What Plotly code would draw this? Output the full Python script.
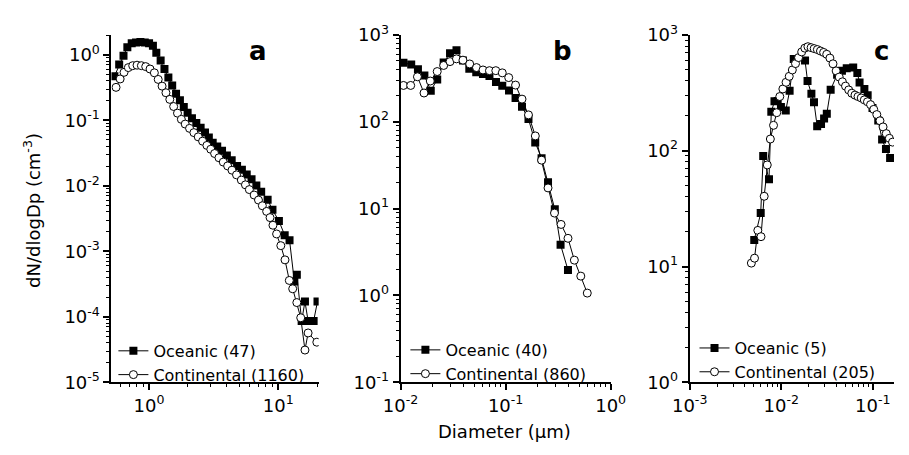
import plotly.graph_objects as go

FONT = "DejaVu Sans"

# ---------------- Panel a ----------------
a_d_oce = [0.539, 0.587, 0.634, 0.679, 0.734, 0.793, 0.857, 0.926, 1.0, 1.071, 1.138, 1.229, 1.316, 1.411,
           1.510, 1.618, 1.733, 1.857, 1.988, 2.148, 2.321, 2.507, 2.710, 2.902, 3.109, 3.371, 3.672, 4.002,
           4.361, 4.801, 5.232, 5.702, 6.214, 6.770, 7.378, 8.277, 9.022, 10.12, 11.22, 12.23, 13.32, 13.93,
           15.18, 16.10, 17.03, 18.79, 20.13]
a_n_oce = [0.469, 0.707, 0.967, 1.306, 1.492, 1.543, 1.569, 1.543, 1.492, 1.373, 1.069, 0.819, 0.606, 0.449,
           0.338, 0.2545, 0.2015, 0.1596, 0.1306, 0.1069, 0.0905, 0.0766, 0.0648, 0.0548, 0.0453, 0.0397,
           0.0344, 0.0291, 0.0246, 0.0201, 0.0176, 0.0149, 0.0126, 0.0101, 0.0081, 0.00612, 0.0043, 0.00291,
           0.00176, 0.00148, 0.000347, 0.000439, 8.66e-5, 0.000171, 8.66e-5, 8.66e-5, 0.000171]
a_d_con = [0.555, 0.597, 0.640, 0.691, 0.747, 0.807, 0.872, 0.942, 1.017, 1.099, 1.177, 1.261, 1.351, 1.447,
           1.550, 1.660, 1.778, 1.905, 2.058, 2.223, 2.402, 2.596, 2.804, 3.003, 3.217, 3.475, 3.755, 4.057,
           4.384, 4.753, 5.179, 5.576, 5.973, 6.508, 7.031, 7.532, 8.136, 8.643, 9.100, 9.712, 10.47, 11.28,
           12.18, 12.94, 13.93, 14.93, 16.10, 17.03, 19.89]
a_n_con = [0.318, 0.427, 0.539, 0.637, 0.681, 0.693, 0.681, 0.659, 0.606, 0.530, 0.420, 0.332, 0.263, 0.2084,
           0.1622, 0.1284, 0.1034, 0.0875, 0.0753, 0.0648, 0.0558, 0.048, 0.0413, 0.0361, 0.0311, 0.0268,
           0.0230, 0.0201, 0.0173, 0.01468, 0.01222, 0.01034, 0.00875, 0.00723, 0.00606, 0.00496, 0.00406,
           0.00327, 0.0025, 0.00184, 0.00122, 0.00074, 0.000359, 0.000268, 0.000165, 9.67e-5, 3.11e-5,
           5.67e-5, 4.1e-5]

# ---------------- Panel b ----------------
b_d_oce = [0.01065, 0.01262, 0.01463, 0.01685, 0.01938, 0.02232, 0.02571, 0.02956, 0.03405, 0.03923, 0.04510,
           0.05251, 0.06087, 0.07013, 0.08095, 0.09289, 0.1077, 0.1243, 0.1432, 0.1650, 0.1913, 0.2199,
           0.2533, 0.2938, 0.3334, 0.3923]
b_n_oce = [476, 456, 402, 341, 227, 306, 482, 612, 665, 507, 407, 370, 355, 336, 286, 259, 228, 187, 149,
           107.3, 57.8, 37.9, 20.1, 9.82, 3.84, 1.96]
b_d_con = [0.01065, 0.01248, 0.01447, 0.01671, 0.01917, 0.02232, 0.02571, 0.02956, 0.03405, 0.03923, 0.04549,
           0.05284, 0.06087, 0.07013, 0.08061, 0.09289, 0.1070, 0.1243, 0.1432, 0.1650, 0.1917, 0.2199,
           0.2533, 0.2919, 0.3370, 0.3923, 0.4510, 0.5195, 0.5986]
b_n_con = [261.5, 261.5, 329, 214, 294, 378, 444, 492, 529, 511, 462, 420, 394, 387, 387, 365, 322, 264, 182,
           119.8, 68.6, 36.1, 17.3, 8.88, 6.57, 4.55, 2.55, 1.67, 1.065]

# ---------------- Panel c ----------------
c_d_oce = [0.005074, 0.005967, 0.006355, 0.007351, 0.007790, 0.008440, 0.009146, 0.009927, 0.01121, 0.01235,
           0.01370, 0.01820, 0.01938, 0.02136, 0.02280, 0.02470, 0.02721, 0.02940, 0.03147, 0.03467, 0.04077,
           0.04605, 0.05196, 0.06113, 0.06786, 0.07174, 0.08098, 0.08794, 0.09927, 0.1148, 0.1265, 0.1394,
           0.1547]
c_n_oce = [16.96, 28.9, 89.8, 56.8, 216.8, 266.8, 268.4, 238.3, 222.2, 328.4, 620, 600.6, 398.8, 310.3, 261.8,
           162.4, 169.6, 189.9, 208.7, 336.5, 452.6, 490.9, 513.6, 523.4, 467.4, 387, 341, 300.6, 233.8,
           181.9, 124.7, 103.3, 86.5]
c_d_con = [0.004718, 0.005108, 0.005549, 0.006010, 0.006512, 0.007036, 0.007606, 0.008239, 0.008925, 0.009643,
           0.01042, 0.01129, 0.01223, 0.01322, 0.01432, 0.01547, 0.01673, 0.01811, 0.01957, 0.02120, 0.02291,
           0.02482, 0.02683, 0.02905, 0.03141, 0.03402, 0.03677, 0.03981, 0.04303, 0.04661, 0.05038, 0.05458,
           0.05897, 0.06389, 0.06903, 0.07477, 0.08083, 0.08752, 0.09459, 0.1025, 0.1107, 0.1199, 0.1296,
           0.1404, 0.1518, 0.1644]
c_n_con = [10.7, 11.8, 20.5, 18.1, 40.4, 75.3, 126.1, 165.5, 212.8, 293.3, 341, 389.3, 438.3, 497.5, 564.5,
           636, 712, 767.9, 789.9, 775.2, 760.7, 746.5, 725.4, 705.2, 679.2, 629.9, 562.3, 488.2, 431.8, 393,
           360.9, 334.6, 313.3, 301.7, 293.3, 285.1, 274.5, 264.3, 249.7, 227.3, 204.9, 181.2, 160.3, 140.4,
           127.8, 118.5]

names_oce = ["Oceanic (47)", "Oceanic (40)", "Oceanic (5)"]
names_con = ["Continental (1160)", "Continental (860)", "Continental (205)"]
panel_letters = ["a", "b", "c"]

x_ticks = [[1, 10], [0.01, 0.1, 1], [0.001, 0.01, 0.1]]
x_text = [["10<sup>0</sup>", "10<sup>1</sup>"],
          ["10<sup>-2</sup>", "10<sup>-1</sup>", "10<sup>0</sup>"],
          ["10<sup>-3</sup>", "10<sup>-2</sup>", "10<sup>-1</sup>"]]
y_ticks = [[1e-5, 1e-4, 1e-3, 1e-2, 1e-1, 1],
           [0.1, 1, 10, 100, 1000],
           [1, 10, 100, 1000]]
y_text = [["10<sup>-5</sup>", "10<sup>-4</sup>", "10<sup>-3</sup>", "10<sup>-2</sup>", "10<sup>-1</sup>", "10<sup>0</sup>"],
          ["10<sup>-1</sup>", "10<sup>0</sup>", "10<sup>1</sup>", "10<sup>2</sup>", "10<sup>3</sup>"],
          ["10<sup>0</sup>", "10<sup>1</sup>", "10<sup>2</sup>", "10<sup>3</sup>"]]


def minor_vals(decades):
    return [m * 10.0 ** e for e in decades for m in range(2, 10)]


x_minor_dec = [[-1, 0, 1], [-2, -1], [-3, -2, -1]]
y_minor_dec = [[-5, -4, -3, -2, -1, 0], [-1, 0, 1, 2], [0, 1, 2]]

W, H = 909, 455
x_dom = [[97 / W, 312 / W], [397 / W, 615 / W], [697 / W, 1.0]]
x_rng = [[-0.291, 1.313], [-2, 0], [-3, -0.768]]
y_dom = [1 - 389 / H, 1 - 23 / H]
y_rng = [[-5, 0.304], [-1, 3], [0, 3]]

data = [(a_d_oce, a_n_oce, a_d_con, a_n_con),
        (b_d_oce, b_n_oce, b_d_con, b_n_con),
        (c_d_oce, c_n_oce, c_d_con, c_n_con)]

fig = go.Figure()
for i, (d1, n1, d2, n2) in enumerate(data):
    sx = "" if i == 0 else str(i + 1)
    leg = "legend" if i == 0 else "legend" + str(i + 1)
    fig.add_trace(go.Scatter(
        x=d1, y=n1, mode="lines+markers", name=names_oce[i],
        xaxis="x" + sx, yaxis="y" + sx, legend=leg,
        line=dict(color="black", width=1),
        marker=dict(symbol="square", size=8, color="black", line=dict(width=0))))
    fig.add_trace(go.Scatter(
        x=d2, y=n2, mode="lines+markers", name=names_con[i],
        xaxis="x" + sx, yaxis="y" + sx, legend=leg,
        line=dict(color="black", width=1),
        marker=dict(symbol="circle", size=8, color="white", line=dict(color="black", width=1))))

axis_common = dict(type="log", showline=True, linecolor="black", linewidth=2, ticks="outside",
                   ticklen=6, tickwidth=1.5, tickcolor="black", showgrid=False, zeroline=False,
                   tickmode="array",
                   tickfont=dict(family=FONT, size=18, color="black"))

layout = dict(width=W, height=H, margin=dict(l=0, r=0, t=0, b=0),
              paper_bgcolor="white", plot_bgcolor="white",
              font=dict(family=FONT, color="black"))
for i in range(3):
    sx = "" if i == 0 else str(i + 1)
    layout["xaxis" + sx] = dict(axis_common, domain=x_dom[i], range=x_rng[i], anchor="y" + sx,
                                tickvals=x_ticks[i], ticktext=x_text[i],
                                minor=dict(ticks="outside", ticklen=3, tickwidth=1, tickcolor="black",
                                           tickmode="array", tickvals=minor_vals(x_minor_dec[i]),
                                           showgrid=False))
    layout["yaxis" + sx] = dict(axis_common, domain=y_dom, range=y_rng[i], anchor="x" + sx,
                                tickvals=y_ticks[i], ticktext=y_text[i],
                                minor=dict(ticks="outside", ticklen=3, tickwidth=1, tickcolor="black",
                                           tickmode="array", tickvals=minor_vals(y_minor_dec[i]),
                                           showgrid=False))

leg_pos = [(99, 338), (402, 337), (702, 335)]
for i in range(3):
    key = "legend" if i == 0 else "legend" + str(i + 1)
    layout[key] = dict(x=leg_pos[i][0] / W, y=1 - leg_pos[i][1] / H, xanchor="left", yanchor="top",
                       bgcolor="rgba(0,0,0,0)", borderwidth=0, tracegroupgap=0,
                       font=dict(family=FONT, size=16, color="black"))

fig.update_layout(**layout)

letter_pos = [(249, 40), (565, 40), (896, 40)]
for i in range(3):
    fig.add_annotation(text="<b>" + panel_letters[i] + "</b>", x=letter_pos[i][0] / W, y=1 - letter_pos[i][1] / H,
                       xref="paper", yref="paper", showarrow=False, xanchor="center", yanchor="middle",
                       font=dict(family=FONT, size=26, color="black"))

fig.add_annotation(text="dN/dlogDp (cm<sup>-3</sup>)", x=15 / W, y=1 - 208 / H, xref="paper", yref="paper",
                   showarrow=False, textangle=-90, xanchor="center", yanchor="middle",
                   font=dict(family=FONT, size=18, color="black"))
fig.add_annotation(text="Diameter (µm)", x=505 / W, y=1 - 441 / H, xref="paper", yref="paper",
                   showarrow=False, xanchor="center", yanchor="middle",
                   font=dict(family=FONT, size=18, color="black"))

fig.write_html("out.html")
